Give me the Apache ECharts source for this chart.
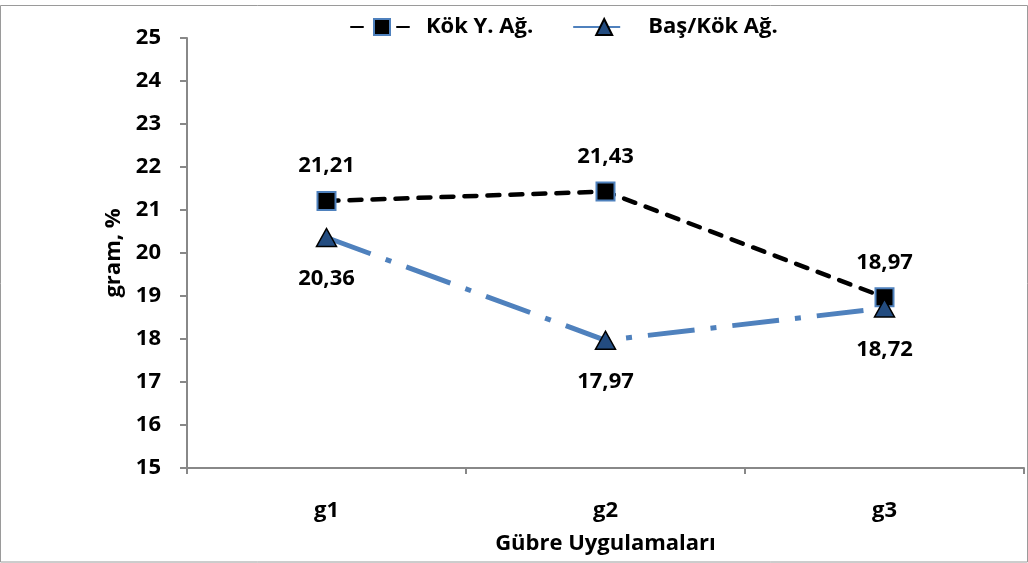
<!DOCTYPE html>
<html>
<head>
<meta charset="utf-8">
<script src="https://cdn.jsdelivr.net/npm/echarts@6/dist/echarts.min.js"></script>
<style>html,body{margin:0;padding:0;background:#fff}#c{width:1028px;height:563px}</style>
</head>
<body>
<div id="c"></div>
<script>
var categories = ['g1', 'g2', 'g3'];
var kokY = [21.21, 21.43, 18.97];
var basKok = [20.36, 17.97, 18.72];
var seriesNames = ['Kök Y. Ağ.', 'Baş/Kök Ağ.'];
var yMin = 15, yMax = 25, yStep = 1;

var FONT = '"Open Sans"';
var FS = 22;
var chart = echarts.init(document.getElementById('c'), null, {renderer: 'canvas'});
function fmt(p) { return p.value.toFixed(2).replace('.', ','); }
chart.setOption({
  animation: false,
  textStyle: {fontFamily: FONT, fontWeight: 'bold', color: '#000'},
  graphic: [{type: 'rect', shape: {x: 0.5, y: 5.5, width: 1027, height: 556.5}, style: {fill: 'none', stroke: '#9a9a9a', lineWidth: 1}, silent: true, z: -1}],
  legend: {
    left: 345, top: 11, itemWidth: 62, itemHeight: 20, itemGap: 39,
    textStyle: {fontFamily: FONT, fontWeight: 'bold', fontSize: FS, color: '#000', padding: [0, 0, 0, 8]},
    data: seriesNames
  },
  grid: {left: 187, right: 4, top: 38, bottom: 95, containLabel: false},
  xAxis: {
    type: 'category', data: categories, boundaryGap: true,
    name: 'Gübre Uygulamaları', nameLocation: 'middle', nameGap: 65,
    nameTextStyle: {fontFamily: FONT, fontWeight: 'bold', fontSize: FS, color: '#000'},
    axisLine: {lineStyle: {color: '#888', width: 2}},
    axisTick: {show: true, inside: false, length: 6, lineStyle: {color: '#888', width: 2}, alignWithLabel: false},
    axisLabel: {margin: 32, fontFamily: FONT, fontWeight: 'bold', fontSize: FS, color: '#000'},
    splitLine: {show: false}
  },
  yAxis: {
    type: 'value', min: yMin, max: yMax, interval: yStep,
    name: 'gram, %', nameLocation: 'middle', nameGap: 60, nameRotate: 90,
    nameTextStyle: {fontFamily: FONT, fontWeight: 'bold', fontSize: FS, color: '#000'},
    axisLine: {show: true, lineStyle: {color: '#888', width: 2}},
    axisTick: {show: true, length: 7, lineStyle: {color: '#888', width: 2}},
    axisLabel: {margin: 26, fontFamily: FONT, fontWeight: 'bold', fontSize: FS, color: '#000'},
    splitLine: {show: false}
  },
  series: [
    {
      name: seriesNames[0], type: 'line', data: kokY,
      symbol: 'rect', symbolSize: 18,
      itemStyle: {color: '#000', borderColor: '#4F81BD', borderWidth: 2},
      lineStyle: {color: '#000', width: 4.5, type: [12, 11], cap: 'round'},
      label: {show: true, position: 'top', distance: 14, formatter: fmt, fontFamily: FONT, fontWeight: 'bold', fontSize: FS, color: '#000'},
      z: 2
    },
    {
      name: seriesNames[1], type: 'line', data: basKok,
      symbol: 'triangle', symbolSize: [20, 18],
      itemStyle: {color: '#234C80', borderColor: '#000', borderWidth: 1.5},
      lineStyle: {color: '#4F81BD', width: 5, type: [47, 16, 6, 16], cap: 'butt'},
      label: {show: true, position: 'bottom', distance: 21, formatter: fmt, fontFamily: FONT, fontWeight: 'bold', fontSize: FS, color: '#000'},
      z: 3
    }
  ]
});
</script>
</body>
</html>
